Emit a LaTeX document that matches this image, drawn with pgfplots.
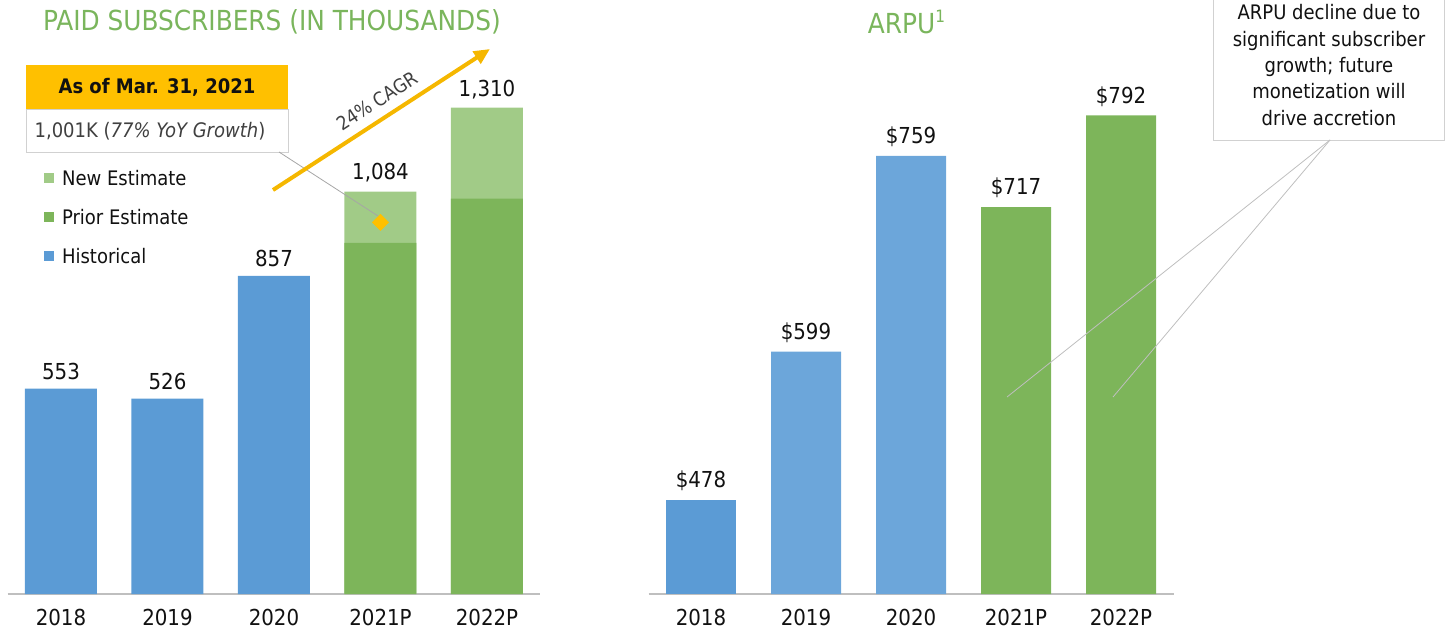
\documentclass[border=0pt]{standalone}
\usepackage{pgfplots}
\pgfplotsset{compat=1.18}
\usepackage{fontspec}
\setmainfont{DejaVu Sans Condensed}
\usetikzlibrary{arrows.meta}

\definecolor{hist}{HTML}{5B9BD5}
\definecolor{histl}{HTML}{6CA6DA}
\definecolor{prior}{HTML}{7DB55A}
\definecolor{newest}{HTML}{A1CB87}
\definecolor{ttl}{HTML}{7AB55C}
\definecolor{gold}{HTML}{FFC000}
\definecolor{arrowc}{HTML}{F5B700}
\definecolor{txt}{HTML}{111111}

\pgfplotsset{
  mybars/.style={
    scale only axis, ybar, bar shift=0pt,
    xmin=-0.5, xmax=4.5,
    axis x line=bottom, axis y line=none,
    x axis line style={draw=black!25, line width=0.8pt, -},
    xtick={0,1,2,3,4},
    xticklabels={2018,2019,2020,2021P,2022P},
    major tick length=0pt,
    tick label style={font=\fontsize{11}{13}\selectfont, text=txt},
    xticklabel style={yshift=-4pt},
    /pgf/number format/assume math mode=true,
    /pgf/number format/1000 sep={,},
    every node near coord/.append style={font=\fontsize{11}{13}\selectfont, text=txt, yshift=1pt},
    clip=false,
  }
}

\begin{document}
\begin{tikzpicture}[x=0.5pt,y=-0.5pt]
\path[use as bounding box] (0,0) rectangle (1454,640);
\coordinate (L) at (7.75,594);
\coordinate (R) at (648.5,594);

% left chart: paid subscribers
\begin{axis}[mybars, at={(L)}, anchor=south west,
  width=266.25pt, height=297pt, ymin=0, ymax=1600, bar width=36pt]
\addplot[fill=hist, draw=none, nodes near coords] coordinates {(0,553) (1,526) (2,857)};
\addplot[fill=newest, draw=none, nodes near coords] coordinates {(3,1084) (4,1310)};
\addplot[fill=prior, draw=none] coordinates {(3,946) (4,1065)};
\addplot[only marks, color=gold, mark=square*, mark size=2.8pt, mark options={rotate=45, fill=gold, draw=gold}] coordinates {(3,1001)};
\end{axis}

% right chart: ARPU
\begin{axis}[mybars, at={(R)}, anchor=south west,
  width=262.5pt, height=297pt, ymin=401, ymax=886.3, bar width=35pt,
  nodes near coords={\$\pgfmathprintnumber{\pgfplotspointmeta}}]
\addplot[fill=hist, draw=none] coordinates {(0,478)};
\addplot[fill=histl, draw=none] coordinates {(1,599) (2,759)};
\addplot[fill=prior, draw=none] coordinates {(3,717) (4,792)};
\end{axis}

% titles
\node[text=ttl, font=\fontsize{13.8}{16}\selectfont] at (272,22) {PAID SUBSCRIBERS (IN THOUSANDS)};
\node[text=ttl, font=\fontsize{13.8}{16}\selectfont] at (907,22) {ARPU\textsuperscript{\fontsize{8.5}{10}\selectfont 1}};

% as-of box
\fill[gold] (26,65) rectangle (288,109);
\draw[black!18, fill=white] (26,109) rectangle (288,152);
\node[font=\bfseries\fontsize{10}{12}\selectfont, text=txt] at (157,87) {As of Mar. 31, 2021};
\node[font=\fontsize{10}{12}\selectfont, text=black!75] at (150,131) {1,001K (\textit{77\% YoY Growth})};
\draw[black!35, line width=0.4pt] (279,152) -- (378,216);

% legend
\fill[newest] (44,173) rectangle (54,183);
\fill[prior] (44,212) rectangle (54,222);
\fill[hist] (44,251) rectangle (54,261);
\node[anchor=west, font=\fontsize{10}{12}\selectfont, text=txt] at (55,178) {New Estimate};
\node[anchor=west, font=\fontsize{10}{12}\selectfont, text=txt] at (55,217) {Prior Estimate};
\node[anchor=west, font=\fontsize{10}{12}\selectfont, text=txt] at (55,256) {Historical};

% CAGR arrow
\draw[arrowc, line width=2pt, -{Triangle[length=8pt,width=7pt]}] (273,190) -- (490,49);
\node[rotate=33, font=\fontsize{9.5}{12}\selectfont, text=black!75] at (377,101) {24\% CAGR};

% ARPU callout
\draw[black!18, fill=white] (1213,-5) rectangle (1444,140);
\node[align=center, font=\fontsize{10}{13.2}\selectfont, text=txt] at (1329,65)
  {ARPU decline due to\\significant subscriber\\growth; future\\monetization will\\drive accretion};
\draw[black!25, line width=0.4pt] (1330,140) -- (1007,397);
\draw[black!25, line width=0.4pt] (1330,140) -- (1113,397);
\end{tikzpicture}
\end{document}
